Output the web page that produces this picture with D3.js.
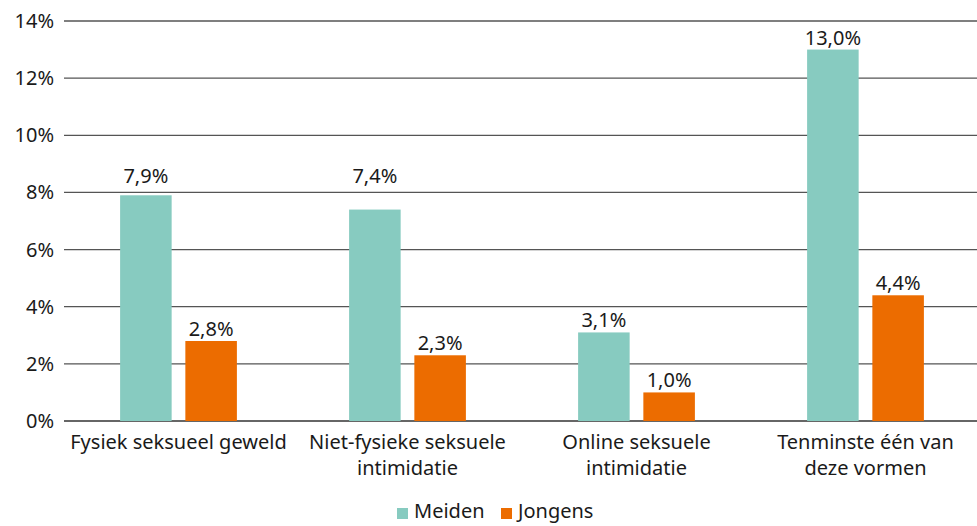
<!DOCTYPE html>
<html>
<head>
<meta charset="utf-8">
<script src="https://cdn.jsdelivr.net/npm/d3@7"></script>
<style>
  body { margin: 0; background: #fff; }
  svg { display: block; font-family: "Noto Sans", "Open Sans", sans-serif; }
</style>
</head>
<body>
<div id="chart"></div>
<script>
const categories = [
    ["Fysiek seksueel geweld"],
    ["Niet-fysieke seksuele", "intimidatie"],
    ["Online seksuele", "intimidatie"],
    ["Tenminste één van", "deze vormen"]
];
const seriesNames = ["Meiden", "Jongens"];
const meiden = [7.9, 7.4, 3.1, 13.0];
const jongens = [2.8, 2.3, 1.0, 4.4];
const yTicks = [0, 2, 4, 6, 8, 10, 12, 14];

const colors = { Meiden: "#87cbc0", Jongens: "#ec6c00" };
const width = 977;
const height = 526;
const margin = { top: 21, right: 0, bottom: 105, left: 64 };
const fontSize = 20;

const data = categories.map((c, i) => ({ key: i, lines: c, Meiden: meiden[i], Jongens: jongens[i] }));

const svg = d3.select("#chart")
    .append("svg")
    .attr("width", width)
    .attr("height", height)
    .attr("viewBox", [0, 0, width, height]);

const x0 = d3.scaleBand()
    .domain(data.map(d => d.key))
    .range([margin.left, 980])
    .paddingInner(0.49)
    .paddingOuter(0.245);

const x1 = d3.scaleBand()
    .domain(seriesNames)
    .range([0, x0.bandwidth()])
    .paddingInner(0.21);

const y = d3.scaleLinear()
    .domain([0, 14])
    .range([height - margin.bottom, margin.top]);

const fmt = v => d3.format(".1f")(v).replace(".", ",") + "%";

// label sits 5px above the bar, unless it would collide with a gridline
function labelY(v) {
    const base = y(v) - 5;
    const hit = yTicks.map(y).find(g => g > base - 16 && g < base + 3);
    return hit === undefined ? base : hit - 9;
}

// gridlines + y labels
const yAxis = svg.append("g");
yAxis.selectAll("line")
    .data(yTicks)
    .join("line")
    .attr("x1", margin.left)
    .attr("x2", width)
    .attr("y1", d => y(d))
    .attr("y2", d => y(d))
    .attr("stroke", d => d === 0 ? "#333" : "#555")
    .attr("stroke-width", 1.3);
yAxis.selectAll("text")
    .data(yTicks)
    .join("text")
    .attr("x", 54)
    .attr("y", d => y(d))
    .attr("dy", "0.35em")
    .attr("text-anchor", "end")
    .attr("font-size", fontSize)
    .attr("fill", "#1a1a1a")
    .text(d => d + "%");

// bars
const groups = svg.append("g")
    .selectAll("g")
    .data(data)
    .join("g")
    .attr("transform", d => `translate(${x0(d.key)},0)`);

groups.selectAll("rect")
    .data(d => seriesNames.map(s => ({ s, v: d[s] })))
    .join("rect")
    .attr("x", d => x1(d.s))
    .attr("y", d => y(d.v))
    .attr("width", x1.bandwidth())
    .attr("height", d => y(0) - y(d.v))
    .attr("fill", d => colors[d.s]);

groups.selectAll("text.val")
    .data(d => seriesNames.map(s => ({ s, v: d[s] })))
    .join("text")
    .attr("class", "val")
    .attr("x", d => x1(d.s) + x1.bandwidth() / 2)
    .attr("y", d => labelY(d.v))
    .attr("text-anchor", "middle")
    .attr("font-size", fontSize)
    .attr("fill", "#1a1a1a")
    .text(d => fmt(d.v));

// category labels
const xAxis = svg.append("g");
xAxis.selectAll("text")
    .data(data)
    .join("text")
    .attr("y", y(0) + 28)
    .attr("text-anchor", "middle")
    .attr("font-size", fontSize)
    .attr("fill", "#1a1a1a")
    .selectAll("tspan")
    .data(d => d.lines.map(l => ({ l, x: x0(d.key) + x0.bandwidth() / 2 })))
    .join("tspan")
    .attr("x", d => d.x)
    .attr("dy", (d, i) => i === 0 ? 0 : 26)
    .text(d => d.l);

// legend
const legendX = [397, 501];
const legend = svg.append("g")
    .selectAll("g")
    .data(seriesNames)
    .join("g")
    .attr("transform", (d, i) => `translate(${legendX[i]},0)`);
legend.append("rect")
    .attr("y", 508)
    .attr("width", 11)
    .attr("height", 11)
    .attr("fill", d => colors[d]);
legend.append("text")
    .attr("x", 17)
    .attr("y", 518)
    .attr("font-size", fontSize)
    .attr("fill", "#1a1a1a")
    .text(d => d);
</script>
</body>
</html>
